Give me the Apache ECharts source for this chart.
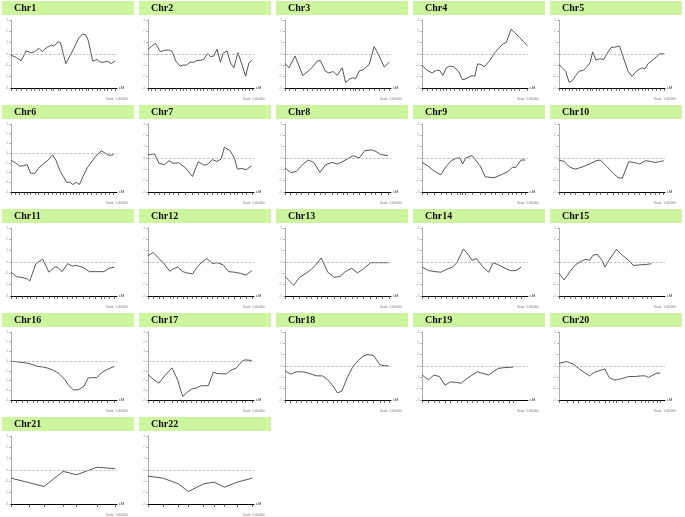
<!DOCTYPE html>
<html><head><meta charset="utf-8">
<script src="https://cdn.jsdelivr.net/npm/echarts@6/dist/echarts.min.js"></script>
<style>html,body{margin:0;padding:0;background:#fff}#c{width:685px;height:517px}</style>
</head><body><div id="c"></div>
<script>
const chrNames = ['Chr1','Chr2','Chr3','Chr4','Chr5','Chr6','Chr7','Chr8','Chr9','Chr10','Chr11','Chr12','Chr13','Chr14','Chr15','Chr16','Chr17','Chr18','Chr19','Chr20','Chr21','Chr22'];
const yMins = [-3,-3,-3,-3,-3,-4,-3,-3,-3,-3,-3,-3,-3,-3,-3,-4,-4,-3,-3,-3,-3,-3];
const yMax = 3;

const chr1Pos = [0,4.8,9.5,14.3,19,22.2,26.3,29.5,33.3,38.1,40.3,44.4,46.7,51.7,57.1,60.3,64.1,67.6,70.8,73,77.1,81,84.1,87.9,91.1,94.6,98.4];
const chr1Val = [-0.1,-0.3,-0.6,0.27,0.1,0.2,0.5,0.2,0.55,0.78,0.7,1.07,1.0,-0.85,0.1,0.7,1.45,1.75,1.67,1.15,-0.63,-0.48,-0.72,-0.72,-0.63,-0.85,-0.6];
const chr2Pos = [0,3.2,7,11.7,15.9,19.7,22.9,26.3,30.2,33.3,36.5,39.7,43.5,46,49.2,52.4,56.2,59.4,61.9,65.1,68.3,70.8,74.6,77.8,81,84.8,88.9,92.1,95.2,98.4];
const chr2Val = [0.42,0.66,0.95,0.2,0.33,0.36,0.2,-0.63,-1.07,-0.98,-0.98,-0.72,-0.72,-0.57,-0.57,-0.48,0.03,-0.24,-0.18,0.42,-0.72,0.06,0.27,-0.78,-1.22,0.12,-1.0,-1.97,-0.78,-0.54];
const chr3Pos = [0,3.8,9.5,16.8,20.6,25.4,30.2,33.3,38.1,41.3,45.4,49.2,54,57.1,61.3,64.1,66.7,69.8,74,79.4,84.1,88.9,93.7,98.4];
const chr3Val = [-0.84,-1.22,-0.18,-1.9,-1.61,-1.22,-0.63,-0.57,-1.52,-1.67,-1.55,-1.88,-1.22,-2.5,-2.2,-2.1,-2.18,-1.52,-1.37,-0.93,0.66,-0.18,-1.16,-0.72];
const chr4Pos = [0,4.8,9.5,13.7,16.8,19.7,22.9,26.3,30.2,34.9,38.1,41.3,44.4,47.6,49.8,52.4,55.6,58.7,63.5,68.3,72.1,76.2,79.4,84.1,87.3,92.1,99.4];
const chr4Val = [-1.0,-1.43,-1.67,-1.43,-1.46,-1.9,-1.22,-1.07,-1.13,-1.6,-2.27,-2.2,-2.03,-1.9,-1.97,-0.87,-0.93,-1.13,-0.63,0.06,0.48,0.87,1.0,2.2,1.9,1.46,0.72];
const chr5Pos = [0,3.2,6.3,9.5,12.7,15.9,19,23.2,27,29.5,31.7,34.9,38.1,42.2,45.4,49.2,54,57.1,61.3,65.1,68.9,72.1,75.2,78.4,81,84.1,87.9,92.1,95.2,99.4];
const chr5Val = [-0.93,-1.22,-1.52,-2.5,-2.33,-1.9,-1.52,-1.43,-1.07,-0.72,0.18,-0.54,-0.42,-0.48,0.06,0.57,0.63,0.72,-0.48,-1.52,-1.97,-1.61,-1.37,-1.22,-1.31,-0.84,-0.57,-0.24,0.03,0.0];
const chr6Pos = [0,4.1,8.2,12.3,15.2,18.5,22.6,25.9,30.9,35,39.1,42.4,46.5,49.4,52.3,55.6,58.4,61.7,64.6,67.9,72,76.1,80.2,85.2,88.5,92.6,96.7];
const chr6Val = [-0.73,-1.0,-1.33,-1.3,-1.17,-2.07,-2.07,-1.57,-1.07,-0.73,-0.17,-0.73,-1.9,-2.4,-3.0,-3.0,-3.23,-3.0,-3.23,-2.4,-1.5,-0.9,-0.3,0.23,0.03,-0.23,-0.17];
const chr7Pos = [0,6.2,10.3,15.6,19.8,23.9,28.8,35,42,47.3,52.7,55.6,60.9,65,69.1,72,77.4,81.5,84.4,88.5,92.6,97.9];
const chr7Val = [0.27,0.36,-0.47,-0.59,-0.24,-0.47,-0.42,-0.83,-1.63,-0.33,-0.62,-0.59,-0.15,-0.3,-0.09,0.95,0.65,0,-0.98,-0.92,-1.04,-0.68];
const chr8Pos = [0,5.3,10.7,15.6,21.8,27.2,32.9,38.3,44.4,49.4,54.7,58.8,64.2,70,75.3,81.5,85.6,90.5,97.1];
const chr8Val = [-0.89,-1.28,-1.19,-0.68,-0.18,-0.39,-1.28,-0.59,-0.39,-0.53,-0.3,-0.09,0.21,0,0.65,0.71,0.59,0.3,0.21];
const chr9Pos = [0,5.3,11.1,17.7,22.6,27.6,32.9,35.8,38.3,41.2,47.3,54.7,59.7,65.8,68.7,76.1,81.1,85.2,88.5,93.4,97.5];
const chr9Val = [-0.39,-0.68,-1.13,-1.48,-0.77,-0.24,0,0,-0.53,0,0.21,-0.68,-1.66,-1.72,-1.72,-1.42,-1.19,-0.83,-0.83,-0.18,-0.18];
const chr10Pos = [0,4.9,10.3,15.6,22.6,28.8,35,39.1,45.3,51.4,55.6,59.7,65.8,70.8,76.1,81.5,86.4,90.5,94.7,98.8];
const chr10Val = [-0.18,-0.3,-0.83,-0.98,-0.77,-0.53,-0.24,-0.18,-0.77,-1.36,-1.72,-1.78,-0.33,-0.39,-0.53,-0.24,-0.3,-0.39,-0.33,-0.24];
const chr11Pos = [0,5.3,10.3,15.2,17.7,23.5,30,35.8,41.2,44,48.1,53.5,57.6,61.7,67.9,74.1,79.4,85.2,87.7,92.6,97.5];
const chr11Val = [-0.9,-1.3,-1.36,-1.5,-1.67,-0.15,0.24,-0.9,-0.45,-0.45,-0.85,-0.15,-0.36,-0.3,-0.48,-0.85,-0.85,-0.85,-0.85,-0.55,-0.45];
const chr12Pos = [0,4.9,10.3,14.4,20.6,23.9,28,32.9,37,42,45.3,50.2,55.6,60.9,65,70.8,76.1,81.5,87.2,92.6,97.9];
const chr12Val = [0.55,0.85,0.3,-0.06,-0.82,-0.6,-0.45,-0.85,-0.97,-1.06,-0.6,-0.06,0.3,-0.15,-0.06,-0.24,-0.85,-0.9,-1.0,-1.15,-0.76];
const chr13Pos = [0,8.2,13.6,19.8,24.7,30,34.2,40.3,46.5,51.9,56.8,63,68.3,74.1,80.7,86.4,91.8,97.9];
const chr13Val = [-1.27,-2.06,-1.36,-1.0,-0.67,-0.15,0.36,-0.9,-1.36,-1.27,-0.85,-0.55,-0.97,-0.6,-0.06,-0.06,-0.06,-0.06];
const chr14Pos = [0,6.2,12.3,17.7,22.6,28.8,32.9,39.1,44,47.3,51.4,57.6,63,67.1,72,78.2,83.5,88.5,93.4];
const chr14Val = [-0.45,-0.76,-0.85,-0.9,-0.67,-0.45,-0.06,1.15,0.6,0.15,0.3,-0.45,-0.9,-0.06,-0.24,-0.55,-0.76,-0.76,-0.45];
const chr15Pos = [0,4.9,10.3,15.6,20.6,25.5,28.8,32.1,36.2,41.2,43.2,48.6,54.3,59.7,65.8,70,78.2,83.1,87.2];
const chr15Val = [-1.0,-1.58,-0.85,-0.24,0.06,0.24,0.15,0.6,0.67,0.06,-0.45,0.36,1.12,0.6,0.15,-0.3,-0.24,-0.21,-0.15];
const chr16Pos = [0,5.3,10.3,15.2,20.6,24.7,30,35,39.9,45.3,50.6,54.7,58.8,63.8,68.7,72.8,77,81.1,85.2,90.5,97.5];
const chr16Val = [0,-0.07,-0.13,-0.2,-0.37,-0.53,-0.6,-0.73,-0.93,-1.27,-1.87,-2.53,-2.97,-2.93,-2.6,-1.73,-1.7,-1.7,-1.2,-0.87,-0.53];
const chr17Pos = [0,4.9,10.3,15.6,22.6,28,30.9,32.9,36.2,41.2,45.3,50.2,53.5,56.8,61.7,65,69.1,74.1,78.2,83.1,88.5,91.4,97.9];
const chr17Val = [-1.37,-1.87,-2.27,-1.53,-0.7,-1.93,-3.03,-3.63,-3.27,-2.87,-2.77,-2.53,-2.53,-2.53,-1.13,-1.27,-1.3,-1.3,-0.93,-0.73,-0.03,0.13,0.07];
const chr18Pos = [0,5.3,10.7,15.6,19.8,24.7,30,35.4,40.3,45.3,49.4,53.5,58.8,64.2,69.1,73.3,77.4,83.5,89.7,93.8,97.9];
const chr18Val = [-0.42,-0.72,-0.51,-0.51,-0.57,-0.72,-0.87,-0.87,-1.22,-1.76,-2.36,-2.24,-1.01,-0.03,0.48,0.84,1.01,0.93,0.09,0.03,0];
const chr19Pos = [0,6.2,11.1,16.5,21.8,26.7,32.9,37,42.4,47.3,52.3,57.6,63,67.1,72,77,82.3,86.4];
const chr19Val = [-0.8,-1.22,-0.8,-0.93,-1.7,-1.4,-1.46,-1.52,-1.1,-0.8,-0.51,-0.66,-0.8,-0.51,-0.21,-0.15,-0.12,-0.09];
const chr20Pos = [0,7.4,13.2,18.5,24.7,28.8,32.9,37.9,43.2,47.3,51.4,54.3,59.7,65.8,72,77.4,81.5,84.4,88.5,92.6,95.5];
const chr20Val = [0.24,0.39,0.18,-0.21,-0.63,-0.87,-0.57,-0.42,-0.27,-1.01,-1.22,-1.22,-1.1,-0.93,-0.93,-0.87,-0.87,-1.01,-0.8,-0.63,-0.63];
const chr21Pos = [0,17.5,31.1,49.2,61.9,81,98.4];
const chr21Val = [-0.72,-1.13,-1.46,-0.12,-0.42,0.24,0.12];
const chr22Pos = [0,14.3,28.6,38.1,52.4,62.5,72.1,84.1,98.4];
const chr22Val = [-0.54,-0.72,-1.22,-1.9,-1.22,-1.07,-1.52,-1.07,-0.72];

const allPos = [chr1Pos,chr2Pos,chr3Pos,chr4Pos,chr5Pos,chr6Pos,chr7Pos,chr8Pos,chr9Pos,chr10Pos,chr11Pos,chr12Pos,chr13Pos,chr14Pos,chr15Pos,chr16Pos,chr17Pos,chr18Pos,chr19Pos,chr20Pos,chr21Pos,chr22Pos];
const allVal = [chr1Val,chr2Val,chr3Val,chr4Val,chr5Val,chr6Val,chr7Val,chr8Val,chr9Val,chr10Val,chr11Val,chr12Val,chr13Val,chr14Val,chr15Val,chr16Val,chr17Val,chr18Val,chr19Val,chr20Val,chr21Val,chr22Val];

const grids = [], xAxes = [], yAxes = [], series = [], graphics = [];
chrNames.forEach((name, i) => {
  const col = i % 5, row = Math.floor(i / 5);
  const ox = 2 + col * 137, oy = 1 + row * 104;
  graphics.push({type:'rect', silent:true, shape:{x:ox, y:oy, width:132, height:14}, style:{fill:'#ccf59e'}});
  graphics.push({type:'text', silent:true, style:{text:name, x:ox+12, y:oy+7.5, verticalAlign:'middle', font:'bold 10px "Liberation Serif"', fill:'#111'}});
  graphics.push({type:'text', silent:true, style:{text:'Scale: 1.000000', x:ox+104, y:oy+98, verticalAlign:'middle', font:'3px "Liberation Sans"', fill:'#777'}});
  grids.push({left: ox + 9, top: oy + 19, width: 106, height: 68});
  xAxes.push({
    gridIndex:i, type:'value', min:0, max:100,
    axisLine:{onZero:false, lineStyle:{color:'#000', width:1}},
    axisTick:{show:true, customValues: allPos[i], length:3, lineStyle:{color:'#333', width:0.7}},
    axisLabel:{show:false}, splitLine:{show:false},
    name:'cM', nameLocation:'end', nameGap:2,
    nameTextStyle:{fontSize:4, color:'#333', verticalAlign:'middle'}
  });
  yAxes.push({
    gridIndex:i, type:'value', min:yMins[i], max:yMax, interval:1,
    axisLine:{show:true, lineStyle:{color:'#999', width:0.8}},
    axisTick:{show:true, length:2, lineStyle:{color:'#999', width:0.7}},
    axisLabel:{fontSize:3, color:'#999', margin:3},
    splitLine:{show:false}
  });
  series.push({
    type:'line', xAxisIndex:i, yAxisIndex:i,
    data: allPos[i].map((x, j) => [x, allVal[i][j]]),
    showSymbol:false, symbol:'none', silent:true,
    lineStyle:{color:'#444', width:0.9},
    markLine:{silent:true, symbol:['none','none'], label:{show:false},
      lineStyle:{type:'dashed', color:'#aaa', width:0.7}, data:[{yAxis:0}]}
  });
});

const chart = echarts.init(document.getElementById('c'), null, {renderer:'canvas'});
chart.setOption({
  backgroundColor:'#fff', animation:false,
  grid: grids, xAxis: xAxes, yAxis: yAxes, series: series, graphic: graphics
});
</script></body></html>
